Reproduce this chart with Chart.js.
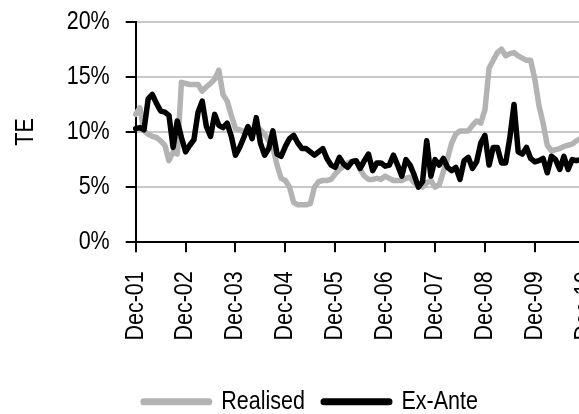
<!DOCTYPE html>
<html>
<head>
<meta charset="utf-8">
<script src="https://cdn.jsdelivr.net/npm/chart.js@4/dist/chart.umd.min.js"></script>
<style>
  html, body { margin: 0; padding: 0; background: #fff; overflow: hidden; }
  #wrap { width: 579px; height: 414px; overflow: hidden; position: relative; }
  canvas { position: absolute; left: 0; top: 0; }
</style>
</head>
<body>
<div id="wrap"><canvas id="c" width="634" height="414"></canvas></div>
<script>
// Condensed text rendering (the reference uses a narrow sans face)
(function () {
  const SX = 0.86;
  const proto = CanvasRenderingContext2D.prototype;
  const origFill = proto.fillText, origMeasure = proto.measureText;
  proto.fillText = function (t, x, y) {
    this.save(); this.translate(x, y); this.scale(SX, 1);
    origFill.call(this, t, 0, 0);
    this.restore();
  };
  proto.measureText = function (t) {
    const m = origMeasure.call(this, t);
    return {
      width: m.width * SX,
      actualBoundingBoxAscent: m.actualBoundingBoxAscent,
      actualBoundingBoxDescent: m.actualBoundingBoxDescent,
      actualBoundingBoxLeft: m.actualBoundingBoxLeft * SX,
      actualBoundingBoxRight: m.actualBoundingBoxRight * SX,
      fontBoundingBoxAscent: m.fontBoundingBoxAscent,
      fontBoundingBoxDescent: m.fontBoundingBoxDescent
    };
  };
})();

const monthNames = ['Jan','Feb','Mar','Apr','May','Jun','Jul','Aug','Sep','Oct','Nov','Dec'];
const startYear = 2001, startMonth = 11, monthCount = 116;
const months = [];
for (let i = 0; i < monthCount; i++) {
  const m = (startMonth + i) % 12;
  const y = startYear + Math.floor((startMonth + i) / 12);
  months.push(monthNames[m] + '-' + String(y % 100).padStart(2, '0'));
}
const tickLabels = ['Dec-01','Dec-02','Dec-03','Dec-04','Dec-05','Dec-06','Dec-07','Dec-08','Dec-09','Dec-10'];

const realised = [
  11.6,12.2,10.1,9.8,9.6,9.5,9.2,8.8,7.4,8.2,
  8.0,14.5,14.4,14.3,14.3,14.3,13.7,14.1,14.4,14.8,
  15.6,13.4,12.8,11.5,10.3,10.2,10.0,10.3,10.1,10.0,
  10.2,9.8,9.2,8.6,7.0,5.8,5.6,5.0,3.6,3.4,
  3.4,3.4,3.5,5.0,5.5,5.6,5.6,5.7,6.2,6.6,
  6.9,7.2,7.3,7.4,6.6,6.0,5.7,5.7,5.8,5.7,
  6.0,5.8,5.6,5.6,5.6,5.8,5.9,5.4,5.2,5.0,
  5.4,5.6,5.0,5.2,6.4,7.6,9.0,9.8,10.1,10.1,
  10.1,10.6,11.0,10.8,12.0,15.8,16.5,17.2,17.5,16.9,
  17.1,17.2,16.9,16.7,16.5,16.5,14.8,12.4,10.8,8.8,
  8.3,8.4,8.5,8.7,8.8,8.9,9.2,9.4,9.3
];
const exAnte = [
  10.3,10.4,10.2,13.0,13.4,12.6,11.9,11.8,11.5,8.6,
  11.0,9.5,8.2,8.8,9.3,11.8,12.8,10.5,9.6,11.6,
  10.6,10.4,10.8,9.6,7.9,8.6,9.5,10.5,9.4,11.3,
  9.0,7.9,8.5,10.1,8.0,7.8,8.7,9.4,9.7,9.0,
  8.5,8.5,8.2,7.9,8.2,8.5,7.6,7.0,6.8,7.7,
  7.1,6.8,7.3,7.4,6.7,7.4,8.0,6.5,7.2,7.2,
  6.9,7.0,7.9,7.0,6.0,7.5,7.0,6.1,5.0,5.5,
  9.2,6.0,7.5,7.0,7.6,6.8,6.5,6.8,5.7,7.4,
  7.7,6.7,7.3,9.0,9.7,7.0,8.6,8.6,7.2,7.2,
  9.5,12.5,8.2,8.0,8.6,7.6,7.3,7.4,7.6,6.3,
  7.8,7.5,6.6,7.8,6.6,7.5,7.4,7.5,7.6
];
const yTicks = [0, 5, 10, 15, 20];

const FONT = '"Liberation Sans", Arial, sans-serif';
const FS = 25;

new Chart(document.getElementById('c'), {
  type: 'line',
  data: {
    labels: months,
    datasets: [
      {
        label: 'Realised', data: realised,
        borderColor: '#b3b3b3', backgroundColor: '#b3b3b3',
        borderWidth: 5.5, pointRadius: 0, tension: 0,
        borderJoinStyle: 'round', borderCapStyle: 'round', order: 1
      },
      {
        label: 'Ex-Ante', data: exAnte,
        borderColor: '#000000', backgroundColor: '#000000',
        borderWidth: 5.5, pointRadius: 0, tension: 0,
        borderJoinStyle: 'round', borderCapStyle: 'round', order: 0
      }
    ]
  },
  options: {
    responsive: false,
    animation: false,
    devicePixelRatio: 1,
    layout: { padding: { left: 8, right: 20.2, top: 21.7, bottom: -10.2 } },
    plugins: {
      tooltip: { enabled: false },
      legend: {
        position: 'bottom',
        labels: {
          usePointStyle: true,
          pointStyle: 'line',
          pointStyleWidth: 65,
          boxHeight: FS,
          padding: 19,
          color: '#000',
          font: { family: FONT, size: FS },
          sort: (a, b) => a.datasetIndex - b.datasetIndex,
          generateLabels: (chart) => {
            const items = Chart.defaults.plugins.legend.labels.generateLabels(chart);
            items.forEach(it => { it.lineWidth = 7; it.lineCap = 'round'; });
            return items;
          }
        }
      }
    },
    scales: {
      x: {
        type: 'category',
        offset: false,
        afterFit: (s) => { s.height = 127.9; s.paddingRight = 0; s.paddingLeft = 0; },
        grid: { drawOnChartArea: false, color: '#000', lineWidth: 2, tickLength: 10 },
        border: { color: '#000', width: 2 },
        ticks: {
          autoSkip: false, maxRotation: 90, minRotation: 90, padding: 19,
          color: '#000', font: { family: FONT, size: FS },
          callback: function (val, idx) {
            const l = months[idx];
            return tickLabels.includes(l) ? l : null;
          }
        }
      },
      y: {
        min: 0, max: 20,
        afterBuildTicks: (axis) => { axis.ticks = yTicks.map(v => ({ value: v })); },
        afterFit: (s) => { s.width = 127.7; s.paddingTop = 0; s.paddingBottom = 0; },
        grid: { color: '#c8c8c8', lineWidth: 2, tickColor: '#000', tickLength: 10 },
        border: { color: '#000', width: 2 },
        ticks: {
          padding: 16, color: '#000', font: { family: FONT, size: FS },
          callback: (v) => v + '%'
        },
        title: {
          display: true, text: 'TE', color: '#000',
          font: { family: FONT, size: FS },
          padding: { top: 3, bottom: 10 }
        }
      }
    }
  }
});
</script>
</body>
</html>
